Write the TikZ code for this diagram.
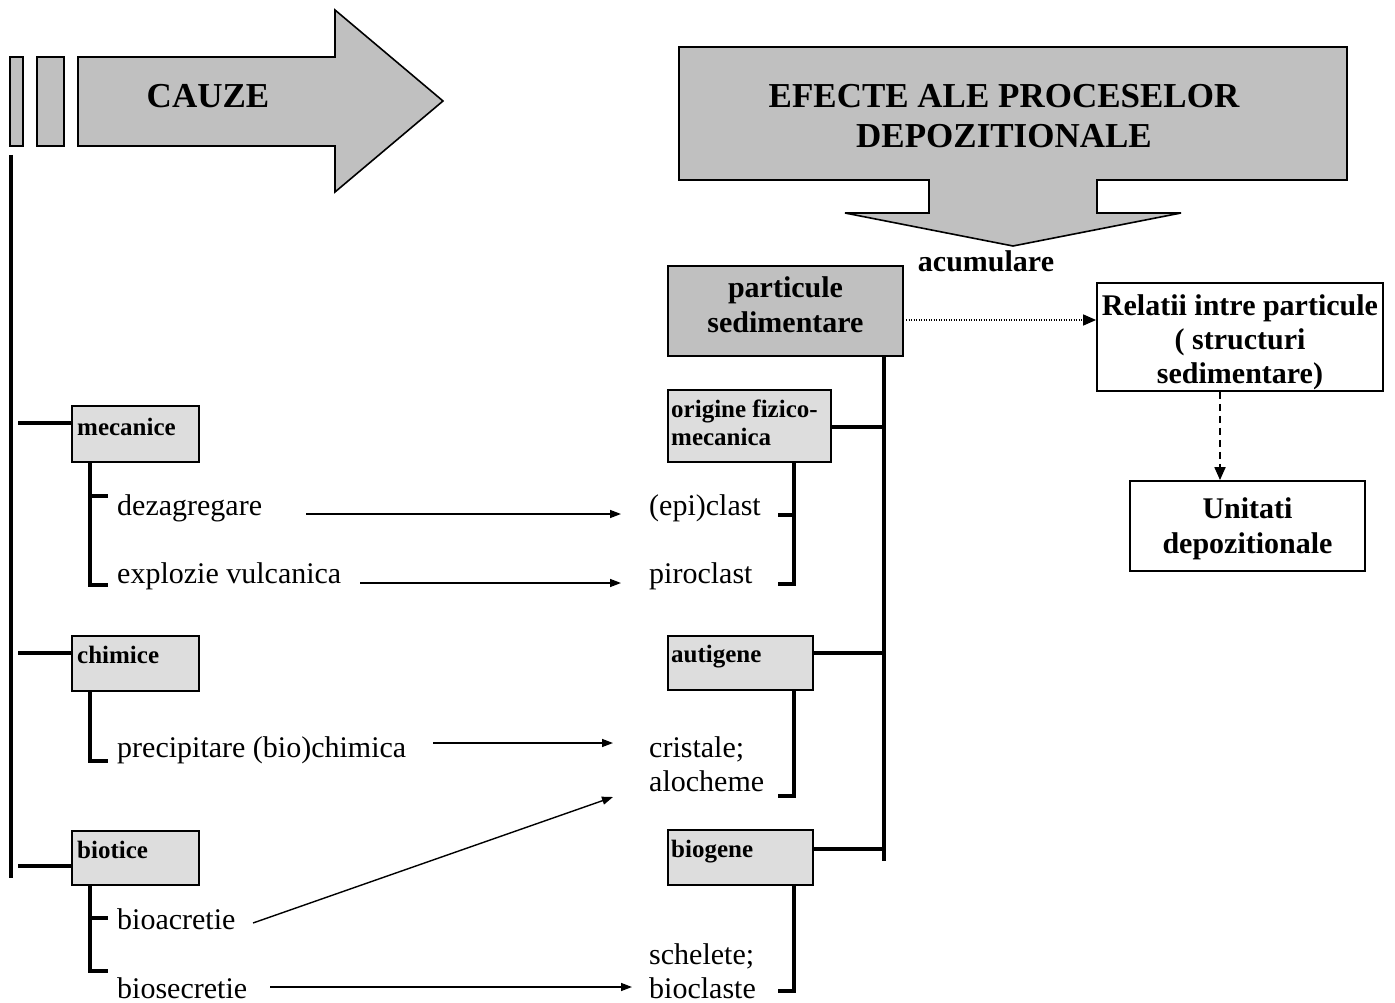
\documentclass[tikz,border=0pt]{standalone}
\usepackage{fontspec}
\setmainfont{Liberation Serif}
\usetikzlibrary{arrows.meta}
\definecolor{graybig}{HTML}{C0C0C0}
\definecolor{graylight}{HTML}{DDDDDD}
\begin{document}
\begin{tikzpicture}[x=1pt,y=-1pt,
  bigshape/.style={fill=graybig,draw=black,line width=1.6pt,line join=miter},
  catbox/.style={draw=black,fill=graylight,line width=1.6pt,inner sep=0pt},
  mainbox/.style={draw=black,fill=graybig,line width=1.8pt,inner sep=0pt},
  whitebox/.style={draw=black,fill=white,line width=1.8pt,inner sep=0pt},
  catlbl/.style={inner sep=0pt,anchor=base west,font=\fontsize{25}{28}\selectfont\bfseries},
  bodytxt/.style={inner sep=0pt,anchor=base west,font=\fontsize{30}{34}\selectfont},
  boldtxt/.style={inner sep=0pt,anchor=base,font=\fontsize{30}{34}\selectfont\bfseries},
  titletxt/.style={inner sep=0pt,anchor=base,font=\fontsize{35}{40}\selectfont\bfseries},
  trunk/.style={line width=4pt},
  conn/.style={line width=4pt},
  thinarrow/.style={line width=1.4pt,-{Triangle[length=11pt,width=8pt]}}
]
\useasboundingbox (0,0) rectangle (1395,1003);

% ---------- CAUZE arrow ----------
\draw[bigshape] (10,57) rectangle (23,146);
\draw[bigshape] (37,57) rectangle (64,146);
\draw[bigshape] (78,57) -- (335,57) -- (335,10) -- (443,101) -- (335,192) -- (335,146) -- (78,146) -- cycle;
\node[titletxt] (cauze) at (208,108) {CAUZE};

% ---------- EFECTE arrow ----------
\draw[bigshape] (679,47) -- (1347,47) -- (1347,180) -- (1097,180) -- (1097,213) -- (1181,213)
  -- (1013,246) -- (845,213) -- (929,213) -- (929,180) -- (679,180) -- cycle;
\node[titletxt] (ef1) at (1004,108) {EFECTE ALE PROCESELOR};
\node[titletxt] (ef2) at (1004,148) {DEPOZITIONALE};
\node[boldtxt] (acum) at (986,272) {acumulare};

% ---------- main boxes ----------
\node[mainbox,minimum width=235pt,minimum height=90pt] (part) at (785.5,311) {};
\node[boldtxt] (partA) at (785.5,298) {particule};
\node[boldtxt] (partB) at (785.5,332) {sedimentare};

\node[whitebox,minimum width=286pt,minimum height=108pt] (rel) at (1240,337) {};
\node[boldtxt] (relA) at (1240,315) {Relatii intre particule};
\node[boldtxt] (relB) at (1240,349) {( structuri};
\node[boldtxt] (relC) at (1240,383) {sedimentare)};

\node[whitebox,minimum width=235pt,minimum height=90pt] (uni) at (1247.5,526) {};
\node[boldtxt] (uniA) at (1247.5,518) {Unitati};
\node[boldtxt] (uniB) at (1247.5,553) {depozitionale};

\coordinate (dotS) at (906,320);
\draw[line width=1.4pt,dash pattern=on 1.2pt off 1.3pt,-{Triangle[length=13pt,width=11pt]}] (dotS) -- (dotS -| rel.west);
\draw[line width=1.8pt,dash pattern=on 7pt off 5pt,-{Triangle[length=13pt,width=11pt]}]
  (rel.south -| 1220,0) -- (uni.north -| 1220,0);

% ---------- left tree ----------
\coordinate (LTtop) at (11,155);
\coordinate (LTbot) at (11,878);
\draw[trunk] (LTtop) -- (LTbot);

\node[catbox,minimum width=127pt,minimum height=56pt] (mec) at (135.5,434) {};
\node[catlbl] (mecT) at (77,435) {mecanice};
\node[catbox,minimum width=127pt,minimum height=55pt] (chi) at (135.5,663.5) {};
\node[catlbl] (chiT) at (77,663) {chimice};
\node[catbox,minimum width=127pt,minimum height=54pt] (bio) at (135.5,858) {};
\node[catlbl] (bioT) at (77,858) {biotice};

\draw[conn] (18,423) -- (mec.west |- 0,423);
\draw[conn] (18,653) -- (chi.west |- 0,653);
\draw[conn] (18,866) -- (bio.west |- 0,866);

% mecanice sub-branch
\draw[conn,line join=miter] (90,462) -- (90,585) -- (108,585);
\draw[conn] (90,496) -- (108,496);
\node[bodytxt] (dez) at (117,515) {dezagregare};
\node[bodytxt] (exp) at (117,583) {explozie vulcanica};
% chimice sub-branch
\draw[conn,line join=miter] (90,691) -- (90,761) -- (108,761);
\node[bodytxt] (pre) at (117,757) {precipitare (bio)chimica};
% biotice sub-branch
\draw[conn,line join=miter] (90,885) -- (90,971) -- (108,971);
\draw[conn] (90,918) -- (108,918);
\node[bodytxt] (bac) at (117,929) {bioacretie};
\node[bodytxt] (bse) at (117,998) {biosecretie};

% ---------- right tree ----------
\coordinate (RTtop) at (884,356);
\coordinate (RTbot) at (884,861);
\draw[trunk] (RTtop) -- (RTbot);

\node[catbox,minimum width=163pt,minimum height=72pt] (ori) at (749.5,426) {};
\node[catlbl] (oriA) at (671,417) {origine fizico-};
\node[catlbl] (oriB) at (671,445) {mecanica};
\node[catbox,minimum width=145pt,minimum height=54pt] (aut) at (740.5,663) {};
\node[catlbl] (autT) at (671,662) {autigene};
\node[catbox,minimum width=145pt,minimum height=55pt] (bgn) at (740.5,857.5) {};
\node[catlbl] (bgnT) at (671,857) {biogene};

\draw[conn] (ori.east |- 0,427) -- (884,427);
\draw[conn] (aut.east |- 0,653) -- (884,653);
\draw[conn] (bgn.east |- 0,849) -- (884,849);

\draw[conn,line join=miter] (794,462) -- (794,584) -- (778,584);
\draw[conn] (794,515) -- (778,515);
\node[bodytxt] (epi) at (649,515) {(epi)clast};
\node[bodytxt] (pir) at (649,583) {piroclast};

\draw[conn,line join=miter] (794,690) -- (794,796) -- (778,796);
\node[bodytxt] (cri) at (649,757) {cristale;};
\node[bodytxt] (alo) at (649,791) {alocheme};

\draw[conn,line join=miter] (794,885) -- (794,991) -- (778,991);
\node[bodytxt] (sch) at (649,964) {schelete;};
\node[bodytxt] (bcl) at (649,998) {bioclaste};

% ---------- thin arrows ----------
\coordinate (a1s) at (306,514); \coordinate (a1e) at (621,514);
\coordinate (a2s) at (360,583); \coordinate (a2e) at (621,583);
\coordinate (a3s) at (433,743); \coordinate (a3e) at (613,743);
\coordinate (a4s) at (253,923); \coordinate (a4e) at (613,797);
\coordinate (a5s) at (270,987); \coordinate (a5e) at (632,987);
\draw[thinarrow] (a1s) -- (a1e);
\draw[thinarrow] (a2s) -- (a2e);
\draw[thinarrow] (a3s) -- (a3e);
\draw[thinarrow] (a4s) -- (a4e);
\draw[thinarrow] (a5s) -- (a5e);
\end{tikzpicture}
\end{document}
